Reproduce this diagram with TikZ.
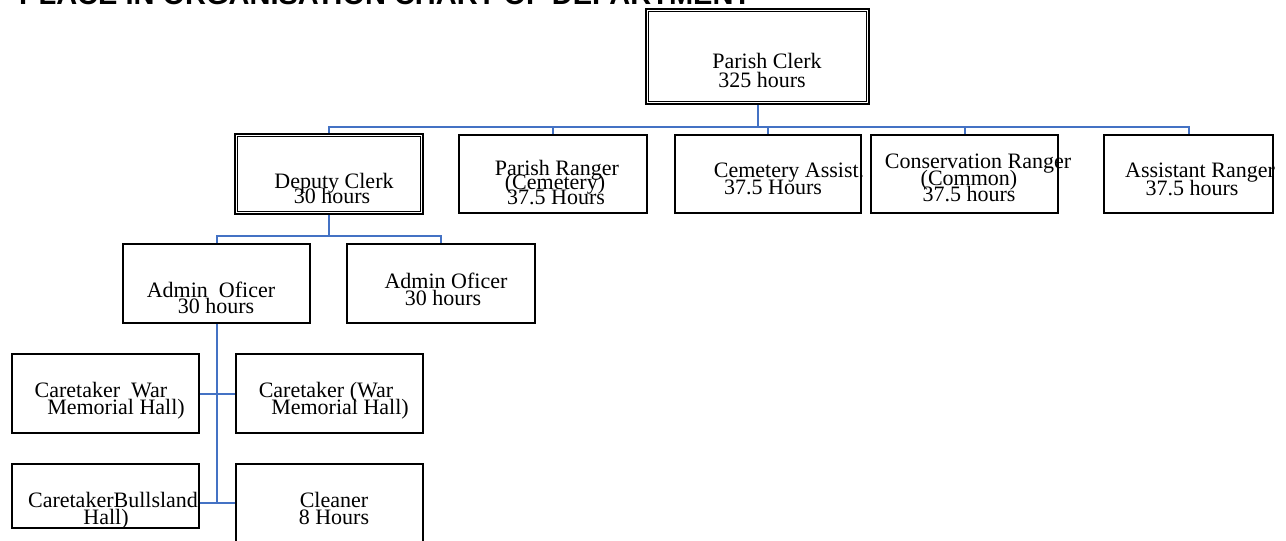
\documentclass[tikz,border=0pt]{standalone}
\usepackage{fontspec}
\setmainfont{Liberation Serif}
\newfontfamily\titlesans{Liberation Sans}
\definecolor{linkblue}{HTML}{4472C4}
\begin{document}
\begin{tikzpicture}[x=1pt,y=-1pt,
  box/.style={draw=black, line width=1.8pt, fill=none, inner sep=0pt, rectangle},
  dbox/.style={draw=black, line width=2.4pt, fill=none, inner sep=0pt, rectangle},
  txt/.style={anchor=base, inner sep=0pt, font=\fontsize{22}{22}\selectfont},
  conn/.style={draw=linkblue, line width=2pt},
  ttl/.style={anchor=base west, inner sep=0pt, font=\titlesans\bfseries\fontsize{29}{29}\selectfont}]
\useasboundingbox (0,0) rectangle (1286,541);
\clip (0,0) rectangle (1286,541);

% title (top cut off)
\node[ttl] (title) at (19,4) {PLACE IN ORGANISATION CHART OF DEPARTMENT};

% boxes
\node[dbox, minimum width=223pt, minimum height=95pt] (pc) at (757.5,56.5) {};
\draw[line width=1pt] ([shift={(4pt,4pt)}]pc.south west) rectangle ([shift={(-4pt,-4pt)}]pc.north east);
\node[dbox, minimum width=188pt, minimum height=80pt] (dc) at (329,174) {};
\draw[line width=1pt] ([shift={(4pt,4pt)}]dc.south west) rectangle ([shift={(-4pt,-4pt)}]dc.north east);
\node[box, minimum width=188pt, minimum height=78pt] (pr) at (553,174) {};
\node[box, minimum width=186pt, minimum height=78pt] (ca) at (768,174) {};
\node[box, minimum width=187pt, minimum height=78pt] (cr) at (964.5,174) {};
\node[box, minimum width=169pt, minimum height=78pt] (ar) at (1188.5,174) {};
\node[box, minimum width=187pt, minimum height=79pt] (ao1) at (216.5,283.5) {};
\node[box, minimum width=188pt, minimum height=79pt] (ao2) at (441,283.5) {};
\node[box, minimum width=187pt, minimum height=79pt] (cw1) at (105.5,393.5) {};
\node[box, minimum width=187pt, minimum height=79pt] (cw2) at (329.5,393.5) {};
\node[box, minimum width=187pt, minimum height=64pt] (cb) at (105.5,496) {};
\node[box, minimum width=187pt, minimum height=100pt] (cl) at (329.5,514) {};

% texts
\node[txt] (pc1) at (767,68) {Parish Clerk};
\node[txt] (pc2) at (762,87) {325 hours};
\node[txt] (dc1) at (334,188) {Deputy Clerk};
\node[txt] (dc2) at (332,203) {30 hours};
\node[txt] (pr1) at (557,175) {Parish Ranger};
\node[txt] (pr2) at (555,189) {(Cemetery)};
\node[txt] (pr3) at (556,204) {37.5 Hours};
\node[txt] (ca1) at (789,177) {Cemetery Assist.};
\node[txt] (ca2) at (773,194) {37.5 Hours};
\node[txt] (cr1) at (978,168) {Conservation Ranger};
\node[txt] (cr2) at (969,185) {(Common)};
\node[txt] (cr3) at (969,201) {37.5 hours};
\node[txt] (ar1) at (1200,177) {Assistant Ranger};
\node[txt] (ar2) at (1192,195) {37.5 hours};
\node[txt] (ao11) at (211,297) {Admin~~Oficer};
\node[txt] (ao12) at (216,313) {30 hours};
\node[txt] (ao21) at (446,288) {Admin Oficer};
\node[txt] (ao22) at (443,305) {30 hours};
\node[txt] (cw11) at (101,397) {Caretaker~~War};
\node[txt] (cw12) at (116,414) {Memorial Hall)};
\node[txt] (cw21) at (326,397) {Caretaker (War};
\node[txt] (cw22) at (340,414) {Memorial Hall)};
\node[txt] (cb1) at (113,507) {CaretakerBullsland};
\node[txt] (cb2) at (106,524) {Hall)};
\node[txt] (cl1) at (334,507) {Cleaner};
\node[txt] (cl2) at (334,524) {8 Hours};

% connectors
\coordinate (bus1) at (757.5,127);
\coordinate (bus2) at (329,236);
\coordinate (bus3) at (216.5,393.5);
\coordinate (bus4) at (216.5,503);
\draw[conn] (pc.south) -- (bus1);
\draw[conn] (dc.north) |- (bus1) -| (ar.north);
\draw[conn] (pr.north) -- (pr.north |- bus1);
\draw[conn] (ca.north) -- (ca.north |- bus1);
\draw[conn] (cr.north) -- (cr.north |- bus1);
\draw[conn] (dc.south) -- (bus2);
\draw[conn] (ao1.north) |- (bus2) -| (ao2.north);
\draw[conn] (ao1.south) -- (bus4);
\draw[conn] (cw1.east) -- (cw2.west);
\draw[conn] (cb.east |- bus4) -- (cl.west |- bus4);
\end{tikzpicture}
\end{document}
